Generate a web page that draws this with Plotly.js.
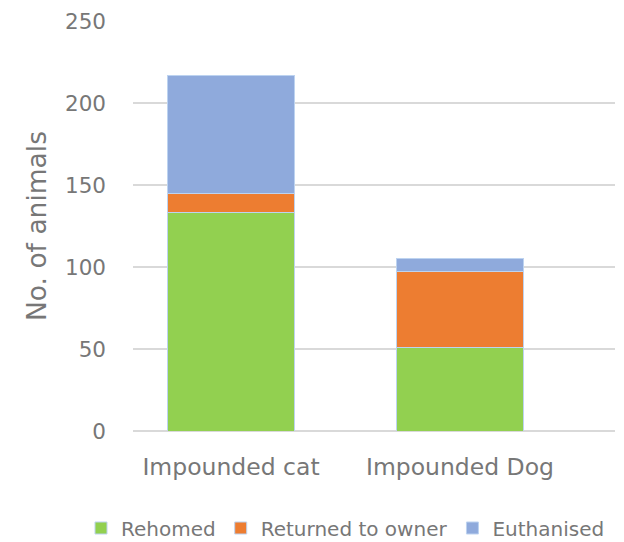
<!DOCTYPE html>
<html>
<head>
<meta charset="utf-8">
<script src="https://cdn.plot.ly/plotly-3.0.1.min.js"></script>
<style>html,body{margin:0;padding:0;background:#fff;}#chart{width:624px;height:542px;}</style>
</head>
<body>
<div id="chart"></div>
<script>
var categories = ["Impounded cat", "Impounded Dog"];
var rehomed = [133, 51];
var returnedToOwner = [12, 46];
var euthanised = [72, 8];
var seriesNames = ["Rehomed", "Returned to owner", "Euthanised"];
var seriesColors = ["#92d050", "#ed7d31", "#8faadc"];
var yTicks = [0, 50, 100, 150, 200, 250];

var FONT = "'DejaVu Sans', sans-serif";
var TXT = "#777777";
var seriesValues = [rehomed, returnedToOwner, euthanised];
var traces = seriesValues.map(function (vals, i) {
  return {
    type: "bar",
    x: categories,
    y: vals,
    name: seriesNames[i],
    width: 0.555,
    marker: { color: seriesColors[i], line: { color: "#bdd3f0", width: 1 } },
    hoverinfo: "x+y+name"
  };
});

var layout = {
  width: 624,
  height: 542,
  barmode: "stack",
  paper_bgcolor: "#ffffff",
  plot_bgcolor: "#ffffff",
  margin: { l: 0, r: 0, t: 21, b: 111, autoexpand: false },
  font: { family: FONT, color: TXT },
  xaxis: {
    type: "category",
    domain: [133 / 624, 615 / 624],
    range: [-0.428, 1.677],
    showgrid: false,
    showline: false,
    zeroline: false,
    ticks: "",
    ticklabelstandoff: 19,
    tickfont: { size: 23.5, color: TXT, family: FONT }
  },
  yaxis: {
    range: [0, 250],
    tickvals: yTicks,
    ticktext: yTicks.map(String),
    showgrid: true,
    gridcolor: "#d9d9d9",
    gridwidth: 1.3,
    zeroline: true,
    zerolinecolor: "#d9d9d9",
    zerolinewidth: 1.3,
    showline: false,
    ticks: "",
    ticklabelstandoff: 26,
    tickfont: { size: 21.5, color: TXT, family: FONT },
    title: { text: "No. of animals", font: { size: 26.5, color: TXT, family: FONT }, standoff: 10 }
  },
  showlegend: true,
  legend: {
    orientation: "h",
    xref: "container",
    yref: "container",
    x: 81 / 624,
    xanchor: "left",
    y: (542 - 528) / 542,
    yanchor: "middle",
    traceorder: "normal",
    font: { size: 20, color: TXT, family: FONT },
    itemwidth: 30
  }
};

Plotly.newPlot("chart", traces, layout, { displayModeBar: false, staticPlot: true });
</script>
</body>
</html>
